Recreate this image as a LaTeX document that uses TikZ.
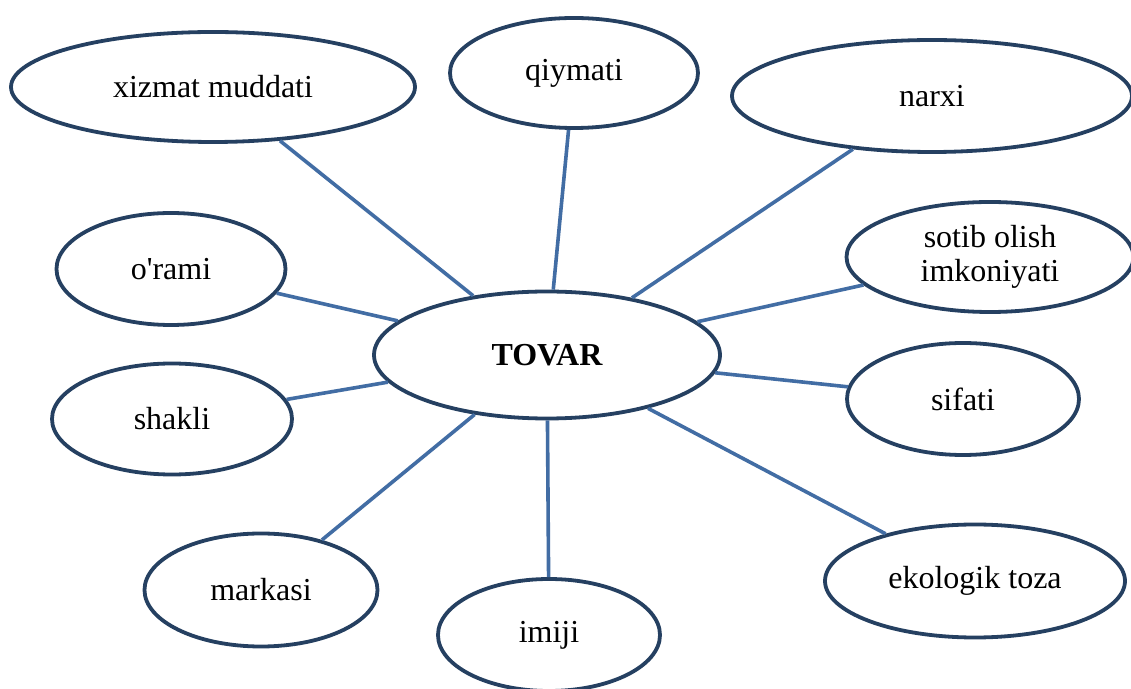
\documentclass[tikz,border=0pt]{standalone}
\usepackage{fontspec}
\setmainfont{Liberation Serif}
\usetikzlibrary{shapes.geometric}
\definecolor{ellcol}{RGB}{37,64,97}
\definecolor{linkcol}{RGB}{66,109,164}
\tikzset{
  bubble/.style={ellipse, draw=ellcol, line width=1.9pt, fill=white, inner sep=0pt,
    align=center, font=\fontsize{16}{17}\selectfont},
  link/.style={draw=linkcol, line width=1.8pt}
}
\begin{document}
\begin{tikzpicture}[x=0.5pt,y=-0.5pt]
\useasboundingbox (0,0) rectangle (1131,689);
\clip (0,0) rectangle (1131,689);
\fill[white] (0,0) rectangle (1131,689);
\node[bubble, minimum width=173pt, minimum height=63.5pt, font=\fontsize{16}{17}\selectfont\bfseries] (tov) at (547,355) {TOVAR};
\node[bubble, minimum width=202pt, minimum height=55pt] (xiz) at (213,87) {xizmat muddati};
\node[bubble, minimum width=124pt, minimum height=55pt] (qiy) at (574,73) {qiymati};
\node[bubble, minimum width=200pt, minimum height=56pt] (nar) at (932,96) {narxi};
\node[bubble, minimum width=114.5pt, minimum height=56pt] (ora) at (171,269) {o\textquotesingle rami};
\node[bubble, minimum width=143.5pt, minimum height=55pt] (sot) at (990,257) {sotib olish\\imkoniyati};
\node[bubble, minimum width=120pt, minimum height=55.5pt] (sha) at (172,419) {shakli};
\node[bubble, minimum width=116pt, minimum height=56pt] (sif) at (963,399) {sifati};
\node[bubble, minimum width=116.5pt, minimum height=56.5pt] (mar) at (261,590) {markasi};
\node[bubble, minimum width=111pt, minimum height=56pt] (imi) at (549,635) {imiji};
\node[bubble, minimum width=150pt, minimum height=56.5pt] (eko) at (975,581) {ekologik toza};
\foreach \n in {xiz,qiy,nar,ora,sot,sha,sif,mar,imi,eko}
  \draw[link] (tov) -- (\n);
\end{tikzpicture}
\end{document}
